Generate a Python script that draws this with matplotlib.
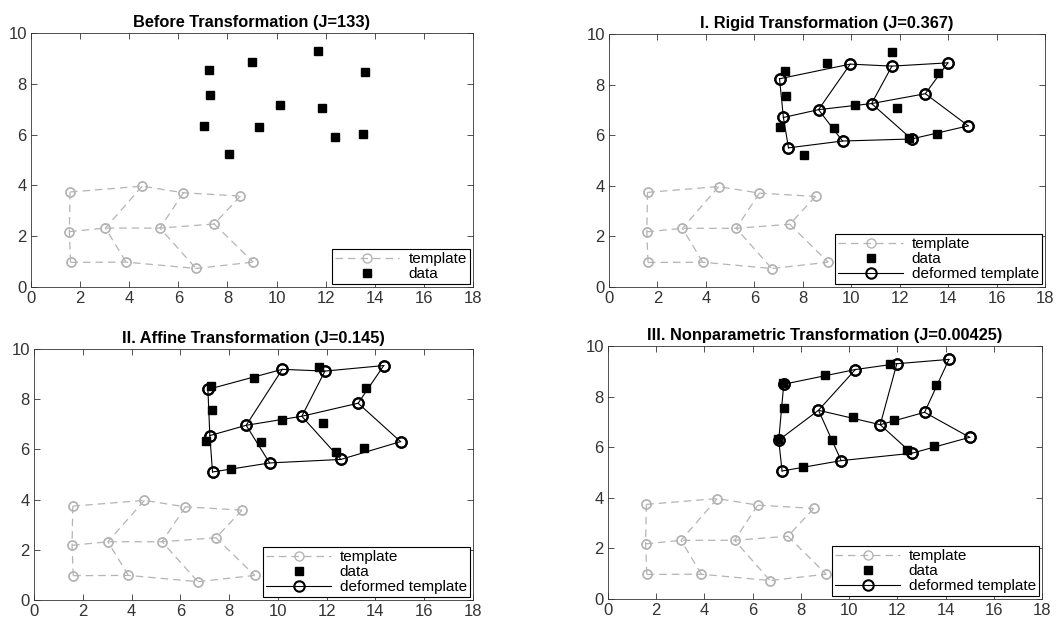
import numpy as np
import matplotlib.pyplot as plt
from matplotlib.lines import Line2D

plt.rcParams['font.family'] = ['Liberation Sans', 'DejaVu Sans']

# template grid (3 rows x 4 columns)
tmpX = [[1.59, 4.53, 6.21, 8.53],
        [1.56, 3.03, 5.25, 7.46],
        [1.61, 3.87, 6.72, 9.05]]
tmpY = [[3.74, 3.97, 3.71, 3.58],
        [2.18, 2.32, 2.32, 2.48],
        [0.97, 0.98, 0.73, 0.98]]

# data points
dataX = [7.25, 9.0, 11.7, 13.6, 7.29, 10.15, 11.87, 7.04, 9.29, 12.4, 13.53, 8.07]
dataY = [8.53, 8.86, 9.28, 8.45, 7.56, 7.18, 7.06, 6.33, 6.28, 5.9, 6.04, 5.22]

# deformed templates
rigidX = [[7.04, 9.96, 11.68, 13.99],
          [7.20, 8.65, 10.84, 13.06],
          [7.41, 9.64, 12.49, 14.83]]
rigidY = [[8.23, 8.81, 8.73, 8.86],
          [6.70, 7.01, 7.25, 7.64],
          [5.50, 5.77, 5.85, 6.37]]

affineX = [[7.13, 10.18, 11.93, 14.34],
           [7.21, 8.70, 10.98, 13.29],
           [7.32, 9.66, 12.58, 15.03]]
affineY = [[8.39, 9.19, 9.12, 9.34],
           [6.55, 6.96, 7.32, 7.84],
           [5.10, 5.46, 5.60, 6.31]]

nonparX = [[7.29, 10.26, 11.98, 14.14],
           [7.08, 8.73, 11.29, 13.13],
           [7.22, 9.67, 12.60, 15.00]]
nonparY = [[8.49, 9.07, 9.30, 9.47],
           [6.28, 7.46, 6.89, 7.38],
           [5.06, 5.47, 5.76, 6.39]]

titles = ['Before Transformation (J=133)',
          'I. Rigid Transformation (J=0.367)',
          'II. Affine Transformation (J=0.145)',
          'III. Nonparametric Transformation (J=0.00425)']
deformed = [None, (rigidX, rigidY), (affineX, affineY), (nonparX, nonparY)]

gray = '#b4b4b4'
tmpStyle = dict(color=gray, linestyle=(0, (6, 4)), linewidth=0.9,
                marker='o', markersize=6.5, markerfacecolor='none',
                markeredgecolor=gray, markeredgewidth=1.0)
defStyle = dict(color='black', linestyle='-', linewidth=0.8,
                marker='o', markersize=7.5, markerfacecolor='none',
                markeredgecolor='black', markeredgewidth=1.5)
dataStyle = dict(linestyle='none', marker='s', markersize=5.8,
                 color='black')


def drawGrid(ax, gx, gy, style):
    gx = np.array(gx); gy = np.array(gy)
    for r in range(gx.shape[0]):
        ax.plot(gx[r], gy[r], **style)
    for c in range(gx.shape[1]):
        ax.plot(gx[:, c], gy[:, c], **style)


W, H = 1058, 620
fig = plt.figure(figsize=(W / 100, H / 100), dpi=100)
# axes boxes in pixels: left, top, right, bottom
boxes = [(31, 33, 473, 287), (609, 34, 1045, 287),
         (34, 349, 473, 600), (608, 346, 1042, 599)]

for i, (l, t, r, b) in enumerate(boxes):
    ax = fig.add_axes([l / W, 1 - b / H, (r - l) / W, (b - t) / H])
    drawGrid(ax, tmpX, tmpY, tmpStyle)
    if deformed[i] is not None:
        drawGrid(ax, deformed[i][0], deformed[i][1], defStyle)
    ax.plot(dataX, dataY, **dataStyle)
    ax.set_xlim(0, 18)
    ax.set_ylim(0, 10)
    ax.set_xticks(np.arange(0, 19, 2))
    ax.set_yticks(np.arange(0, 11, 2))
    ax.tick_params(direction='in', top=True, right=True, length=4,
                   width=0.6, labelsize=12, colors='#333333', pad=3)
    for s in ax.spines.values():
        s.set_linewidth(0.6)
        s.set_color('#333333')
    ax.set_title(titles[i], fontsize=11.8, fontweight='bold', pad=4)

    handles = [Line2D([], [], **tmpStyle), Line2D([], [], **dataStyle)]
    labels = ['template', 'data']
    if deformed[i] is not None:
        handles.append(Line2D([], [], **defStyle))
        labels.append('deformed template')
    leg = ax.legend(handles, labels, loc='lower right', fontsize=11,
                    fancybox=False, framealpha=1, edgecolor='black',
                    borderpad=0.2, labelspacing=0.05, handlelength=4.2,
                    handletextpad=0.6, borderaxespad=0.2)
    leg.get_frame().set_linewidth(0.8)

fig.savefig('out.png', dpi=100)
